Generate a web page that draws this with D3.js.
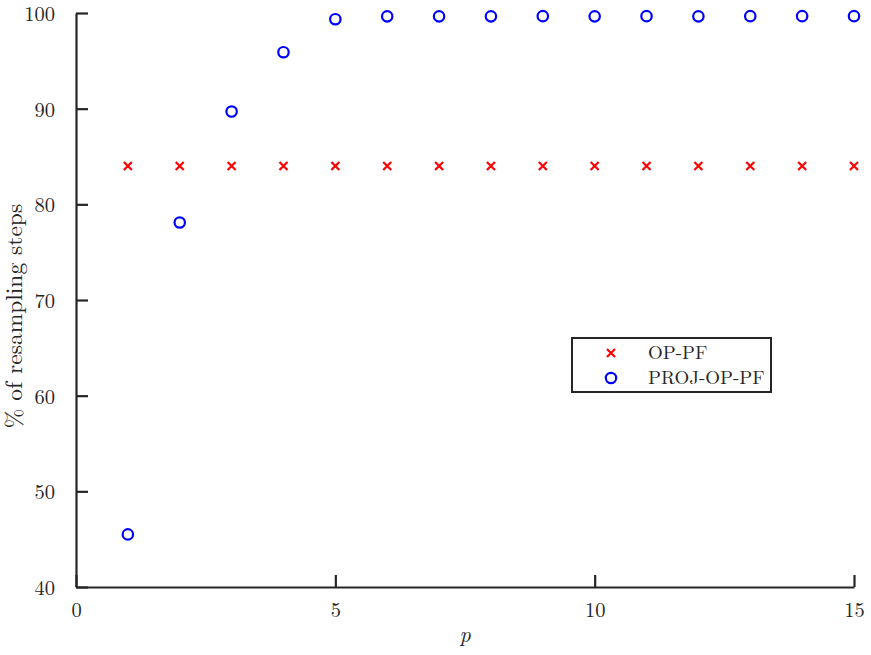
<!DOCTYPE html>
<html>
<head>
<meta charset="utf-8">
<script src="https://cdn.jsdelivr.net/npm/d3@7"></script>
<style>
  html, body { margin: 0; padding: 0; background: #fff; }
  svg { display: block; }
  text { font-family: "Latin Modern Roman", "CMU Serif", "Liberation Serif", serif; fill: #262626; }
</style>
</head>
<body>
<script>
const pValues = [1, 2, 3, 4, 5, 6, 7, 8, 9, 10, 11, 12, 13, 14, 15];
const opPF = [84, 84, 84, 84, 84, 84, 84, 84, 84, 84, 84, 84, 84, 84, 84];
const projOpPF = [45.5, 78.1, 89.7, 95.9, 99.35, 99.65, 99.65, 99.65, 99.67, 99.65, 99.67, 99.65, 99.67, 99.67, 99.67];
const xTicks = [0, 5, 10, 15];
const yTicks = [40, 50, 60, 70, 80, 90, 100];
const seriesNames = ["OP-PF", "PROJ-OP-PF"];

const W = 871, H = 655;
const margin = { left: 76, right: W - 854, top: 13, bottom: H - 587 };

const svg = d3.select("body").append("svg").attr("width", W).attr("height", H);

const x = d3.scaleLinear().domain([0, 15]).range([margin.left, W - margin.right]);
const y = d3.scaleLinear().domain([40, 100]).range([H - margin.bottom, margin.top]);

const axisColor = "#262626";

const yAxis = svg.append("g")
  .attr("transform", `translate(${margin.left},0)`)
  .call(d3.axisLeft(y).tickValues(yTicks).tickSizeInner(-12).tickSizeOuter(0).tickPadding(21));
const xAxis = svg.append("g")
  .attr("transform", `translate(0,${H - margin.bottom})`)
  .call(d3.axisBottom(x).tickValues(xTicks).tickSizeInner(-12).tickSizeOuter(0).tickPadding(19));

[yAxis, xAxis].forEach(g => {
  g.select(".domain").attr("stroke", axisColor).attr("stroke-width", 2.2);
  g.selectAll(".tick line").attr("stroke", axisColor).attr("stroke-width", 2.2);
  g.selectAll(".tick text")
    .style("font-family", '"Latin Modern Roman", "CMU Serif", "Liberation Serif", serif')
    .style("font-size", "20.5px").attr("fill", axisColor);
});
yAxis.selectAll(".tick text").attr("dy", "0.36em");
xAxis.selectAll(".tick text").attr("dy", "0.55em");

const cs = 4;
const crossPath = `M${-cs},${-cs}L${cs},${cs}M${-cs},${cs}L${cs},${-cs}`;
svg.append("g").selectAll("path.cross")
  .data(pValues.map((p, i) => [p, opPF[i]]))
  .join("path")
  .attr("class", "cross")
  .attr("transform", d => `translate(${x(d[0])},${y(d[1])})`)
  .attr("d", crossPath)
  .attr("stroke", "#ff0000").attr("stroke-width", 2.2).attr("fill", "none");

svg.append("g").selectAll("circle")
  .data(pValues.map((p, i) => [p, projOpPF[i]]))
  .join("circle")
  .attr("cx", d => x(d[0])).attr("cy", d => y(d[1])).attr("r", 5.2)
  .attr("stroke", "#0000ff").attr("stroke-width", 2.2).attr("fill", "none");

svg.append("text")
  .attr("transform", `translate(22,${(margin.top + H - margin.bottom) / 2 + 16}) rotate(-90)`)
  .attr("text-anchor", "middle")
  .style("font-size", "23.5px")
  .text("% of resampling steps");

svg.append("text")
  .attr("x", (margin.left + W - margin.right) / 2)
  .attr("y", 642)
  .attr("text-anchor", "middle")
  .style("font-size", "22px").style("font-style", "italic")
  .text("p");

const lg = svg.append("g");
lg.append("rect").attr("x", 572).attr("y", 338).attr("width", 199).attr("height", 54)
  .attr("fill", "#fff").attr("stroke", axisColor).attr("stroke-width", 2);
lg.append("path").attr("transform", "translate(611,353)").attr("d", crossPath)
  .attr("stroke", "#ff0000").attr("stroke-width", 2.2).attr("fill", "none");
lg.append("circle").attr("cx", 611).attr("cy", 378).attr("r", 5.2)
  .attr("stroke", "#0000ff").attr("stroke-width", 2.2).attr("fill", "none");
lg.selectAll("text.lab").data(seriesNames).join("text")
  .attr("class", "lab")
  .attr("x", 648).attr("y", (d, i) => 352 + i * 25).attr("dy", "0.35em")
  .style("font-size", "19px")
  .text(d => d);
</script>
</body>
</html>
